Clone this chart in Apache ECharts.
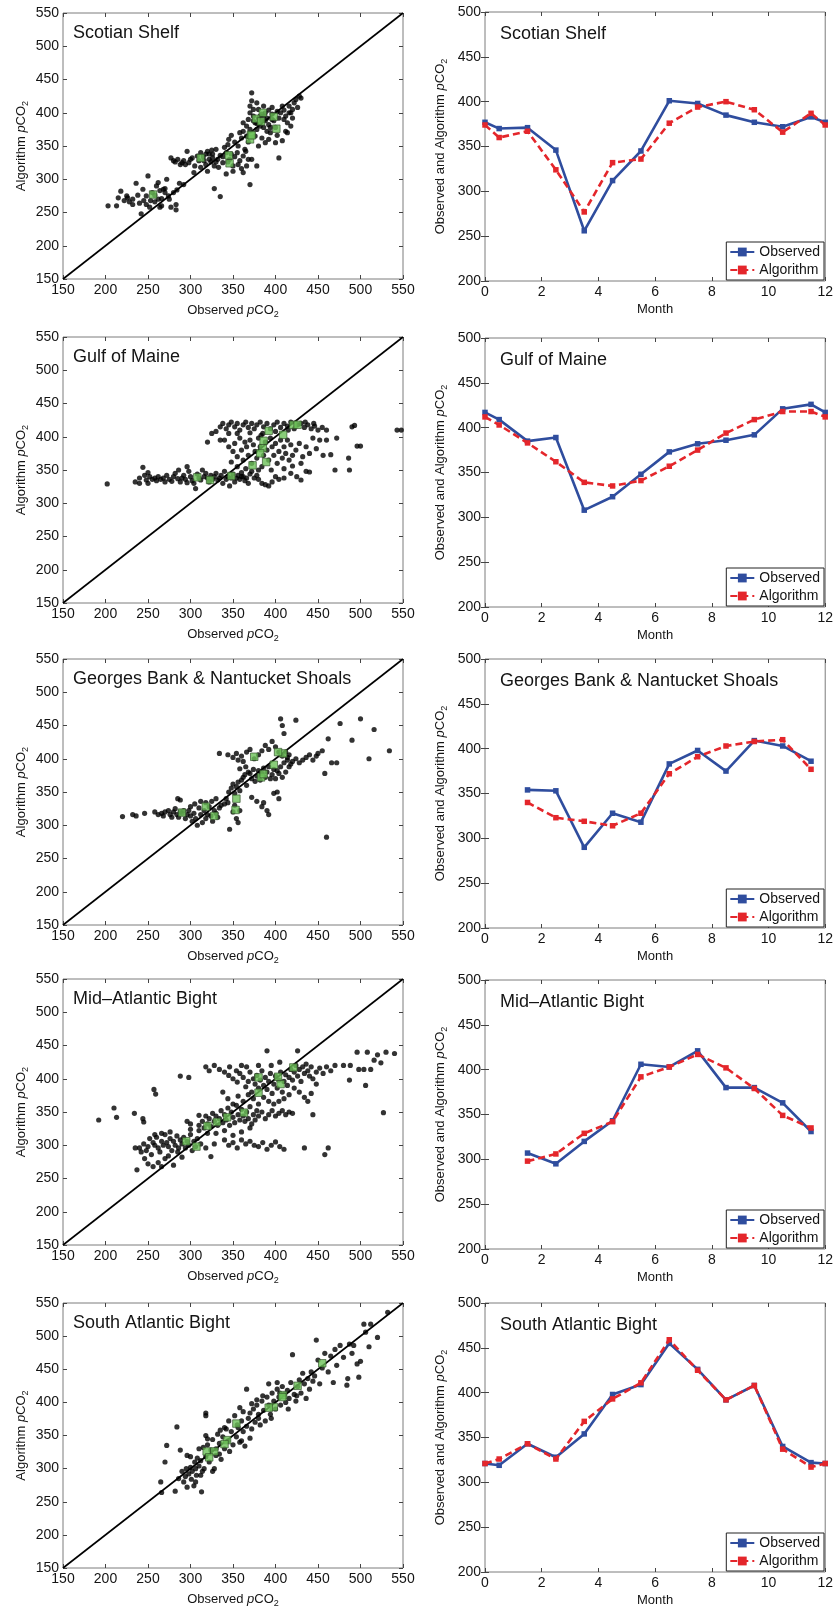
<!DOCTYPE html>
<html>
<head>
<meta charset="utf-8">
<title>Observed and algorithm pCO2</title>
<script src="https://cdn.jsdelivr.net/npm/echarts@6/dist/echarts.min.js"></script>
<style>
  html, body { margin: 0; padding: 0; background: #fff; }
  #chart { width: 836px; height: 1609px; }
</style>
</head>
<body>
<div id="chart"></div>
<script>
// ---- data -----------------------------------------------------------------
const regionNames = ['Scotian Shelf', 'Gulf of Maine', 'Georges Bank & Nantucket Shoals',
  'Mid\u2013Atlantic Bight', 'South Atlantic Bight'];

const monthsFull = [0, 0.5, 1.5, 2.5, 3.5, 4.5, 5.5, 6.5, 7.5, 8.5, 9.5, 10.5, 11.5, 12];
const monthsPart = [1.5, 2.5, 3.5, 4.5, 5.5, 6.5, 7.5, 8.5, 9.5, 10.5, 11.5];

const scotianObs = [377, 370, 371, 346, 256, 312, 345, 401, 398, 385, 377, 372, 383, 377];
const scotianAlg = [374, 360, 367, 324, 277, 332, 336, 376, 394, 400, 391, 366, 387, 374];
const gulfObs = [417, 409, 385, 389, 308, 323, 348, 373, 382, 386, 392, 421, 426, 417];
const gulfAlg = [412, 403, 383, 362, 339, 335, 341, 357, 375, 394, 409, 418, 418, 412];
const georgesObs = [354, 353, 290, 328, 318, 383, 398, 375, 409, 403, 386];
const georgesAlg = [340, 323, 319, 314, 328, 372, 391, 403, 408, 410, 377];
const midObs = [307, 295, 320, 343, 406, 403, 421, 380, 380, 363, 331];
const midAlg = [298, 306, 329, 342, 392, 403, 417, 402, 379, 349, 335];
const southObs = [321, 319, 343, 328, 354, 398, 409, 455, 426, 392, 408, 340, 322, 321];
const southAlg = [321, 326, 343, 326, 368, 393, 411, 459, 425, 392, 408, 337, 317, 321];

// individual matchups: [observed, algorithm]
const scotianDots = [
  [203,260],[213,260],[215,272],[218,282],[222,268],[226,272],[228,266],[232,270],[236,294],[238,276],
  [240,264],[242,248],[245,268],[248,262],[250,305],[252,258],[255,280],[258,276],[260,290],[262,295],
  [264,283],[266,271],[268,285],[270,286],[262,270],[258,266],[264,258],[272,300],[274,275],[277,258],
  [280,280],[283,254],[283,262],[284,284],[287,294],[292,292],[270,280],[275,270],[248,275],[232,262],
  [244,285],[266,260],[225,275],[253,268],
  [277,332],[280,328],[282,326],[285,330],[288,322],[290,325],[292,328],[294,322],[296,342],[298,325],
  [300,330],[302,332],[305,320],[308,335],[310,328],[312,340],[315,334],[318,338],[320,342],[322,330],
  [324,326],[326,338],[328,320],[330,345],[332,330],[335,336],[338,325],[340,348],[342,340],[344,352],
  [346,330],[348,338],[350,320],[352,334],[355,340],[358,328],[360,316],[362,335],[365,342],[368,330],
  [304,310],[312,318],[320,312],[328,286],[335,274],[342,308],[350,312],[356,322],[362,310],[370,292],
  [366,320],[372,330],[378,320],[326,332],[318,322],[333,318],[345,360],[348,366],[352,356],[356,350],
  [360,362],[364,345],[368,356],[316,328],[322,338],[330,326],[338,334],[344,326],[325,344],
  [362,372],[366,380],[368,390],[370,400],[370,410],[372,418],[372,430],[374,395],[376,385],[378,375],
  [380,405],[382,395],[384,388],[386,378],[388,400],[390,392],[392,382],[394,370],[396,398],[398,388],
  [400,378],[402,366],[404,392],[406,400],[408,410],[410,404],[412,395],[414,385],[416,410],[418,400],
  [420,392],[422,415],[424,420],[426,408],[428,425],[430,422],[376,365],[384,362],[392,360],[400,355],
  [408,358],[412,372],[404,332],[414,370],[418,380],[380,350],[388,355],[386,410],[378,415],[374,405],
  [396,408],[410,390],[402,402],[366,365],[370,375],[358,370],[362,385],[380,392],[384,398],[388,388],
  [392,404],[378,384],[382,380],[390,372],[396,390],[374,388],[386,395],[394,378],[416,400],[420,405]
];
const gulfDots = [
  [202,329],[235,332],[240,338],[244,354],[246,342],[248,335],[250,346],[252,340],[255,336],[258,338],
  [260,334],[262,340],[265,336],[268,338],[270,332],[272,342],[275,336],[278,333],[280,340],[282,345],
  [285,337],[288,332],[290,338],[292,342],[294,336],[296,331],[298,348],[300,340],[302,334],[304,330],
  [306,322],[308,344],[310,338],[312,335],[314,350],[316,340],[318,345],[320,338],[322,332],[324,342],
  [326,336],[328,340],[330,345],[332,335],[334,338],[336,342],[338,330],[340,348],[342,336],[344,340],
  [346,326],[348,338],[350,344],[352,332],[354,338],[356,342],[358,336],[360,346],[362,340],[364,334],
  [366,338],[368,330],[370,344],[372,348],[375,338],[378,342],[380,336],[384,330],[388,328],[392,326],
  [396,332],[400,340],[404,336],[410,338],[418,345],[425,340],[430,335],[436,348],[240,330],[250,330],
  [286,350],[296,355],
  [330,408],[335,415],[338,420],[342,412],[345,418],[348,422],[352,415],[355,420],[358,410],[362,418],
  [365,422],[368,414],[372,420],[375,412],[378,418],[382,422],[386,415],[390,420],[394,412],[398,418],
  [402,422],[406,414],[410,420],[414,416],[418,422],[422,412],[426,418],[430,420],[434,414],[438,418],
  [442,412],[446,416],[450,410],[455,414],[460,410],[445,420],[435,422],[415,410],[400,408],[385,405],
  [370,406],[355,405],[345,405],
  [340,395],[345,385],[350,378],[352,390],[355,370],[358,398],[360,380],[362,365],[364,392],[366,385],
  [368,372],[370,395],[372,360],[374,388],[376,378],[378,368],[380,398],[382,385],[384,355],[386,372],
  [388,392],[390,380],[392,365],[394,398],[396,385],[398,372],[400,390],[402,360],[404,378],[406,395],
  [408,368],[410,385],[412,375],[414,395],[416,365],[418,388],[420,372],[424,380],[428,390],[432,370],
  [436,385],[440,375],[444,398],[448,382],[452,395],[456,372],[460,395],[465,373],[470,350],[472,398],
  [486,368],[487,350],[490,415],[493,417],[496,386],[500,386],[543,410],[548,410],[440,347],[430,360],
  [420,356],[410,352],[395,350],[380,350],[365,352],[355,355],[348,362],[335,395],[325,405],[320,392],
  [360,340],[383,402]
];
const georgesDots = [
  [220,313],[232,316],[236,314],[246,318],[258,320],[262,316],[266,318],[268,314],[270,320],[274,322],
  [276,316],[278,312],[280,320],[282,325],[284,316],[286,312],[288,320],[290,318],[292,322],[294,310],
  [296,316],[298,322],[300,314],[302,306],[304,318],[306,310],[308,300],[310,326],[312,316],[314,304],
  [316,322],[318,310],[320,316],[322,328],[324,314],[326,306],[328,322],[330,318],[332,312],[334,326],
  [336,330],[340,332],[344,334],[346,294],[350,320],[352,330],[354,310],[356,304],[358,322],[285,340],
  [288,338],[300,328],[305,332],[312,336],[318,334],[325,336],[330,340],[342,340],
  [345,350],[348,356],[350,362],[352,348],[354,358],[356,365],[358,352],[360,368],[362,372],[364,376],
  [366,360],[368,380],[370,378],[372,370],[374,384],[376,366],[378,374],[380,382],[382,368],[384,378],
  [386,386],[388,372],[390,380],[392,388],[394,370],[396,376],[398,384],[400,370],[402,382],[404,378],
  [406,388],[408,372],[410,394],[412,380],[414,398],[416,388],[418,392],[420,396],[424,400],[428,394],
  [432,398],[436,402],[440,406],[444,398],[448,404],[450,408],[455,412],[458,378],[460,282],[462,430],
  [466,394],[472,394],[476,453],[490,428],[500,460],[510,400],[516,444],[534,412],
  [334,408],[344,406],[350,402],[354,408],[356,398],[360,404],[362,396],[366,410],[370,414],[375,400],
  [380,406],[384,412],[388,420],[392,414],[396,426],[400,418],[404,410],[406,460],[408,450],[410,438],
  [414,402],[424,458],[408,404],[412,410],[416,406],[386,334],[390,322],[392,316],[384,328],[378,336],
  [372,342],[398,348],[402,350],[404,340],[365,388],[358,385]
];
const midDots = [
  [192,338],[210,356],[213,342],[234,348],[235,296],[237,263],[244,340],[245,335],[257,384],[259,377],
  [288,404],[298,402],[324,283],[390,442],[426,442],[434,296],[444,346],[458,286],[462,296],[487,398],
  [496,440],[506,390],[508,440],[527,349],[540,438],[530,440],[520,436],[516,428],[524,424],[512,414],
  [504,414],[498,414],[488,420],[480,420],[470,420],
  [240,296],[242,290],[245,302],[248,292],[250,298],[252,310],[254,286],[256,304],[258,300],[260,312],
  [262,296],[264,290],[266,306],[268,300],[270,316],[272,304],[274,298],[276,310],[278,292],[280,306],
  [282,300],[284,314],[286,296],[288,308],[290,302],[292,312],[294,296],[296,306],[298,300],[300,316],
  [302,292],[304,306],[306,298],[308,310],[310,322],[312,302],[246,280],[250,272],[256,268],[262,274],
  [266,268],[270,280],[274,284],[280,270],[285,290],[290,282],[276,320],[266,318],[258,316],[300,324],
  [310,330],[314,336],[316,326],[318,344],[320,332],[322,340],[324,328],[326,348],[328,336],[330,344],
  [332,330],[334,340],[336,352],[338,334],[340,346],[342,338],[344,356],[346,330],[348,350],[350,342],
  [352,334],[354,360],[356,346],[358,338],[360,354],[362,344],[364,336],[366,350],[368,340],[370,358],
  [372,332],[374,346],[376,338],[378,352],[380,344],[384,350],[388,340],[392,346],[396,352],[400,344],
  [404,348],[408,352],[412,346],[416,350],[420,348],[330,318],[340,322],[350,315],[360,320],[370,326],
  [310,345],[300,332],[296,336],[320,318],
  [340,308],[345,300],[350,304],[355,296],[360,308],[365,302],[370,306],[375,300],[380,298],[385,304],
  [390,294],[395,300],[400,305],[405,298],[410,294],[318,296],[328,302],
  [318,418],[322,412],[328,420],[334,414],[340,410],[345,405],[350,400],[355,395],[358,408],[362,402],
  [365,388],[368,396],[370,410],[372,380],[374,400],[376,392],[378,405],[380,386],[382,398],[384,412],
  [386,390],[388,402],[390,384],[392,396],[394,408],[396,378],[398,392],[400,404],[402,386],[404,398],
  [406,410],[408,380],[410,396],[412,406],[414,390],[416,402],[418,414],[420,398],[422,410],[424,420],
  [426,404],[428,414],[430,396],[432,418],[434,408],[436,422],[438,412],[440,404],[442,418],[444,400],
  [448,410],[452,416],[456,408],[460,418],[465,412],[448,392],[442,378],[438,366],[434,372],[428,380],
  [422,386],[416,376],[410,370],[404,366],[398,362],[392,366],[386,372],[380,362],[374,370],[368,376],
  [362,366],[356,374],[350,362],[344,370],[338,380],[366,418],[360,420],[354,412],[346,418],[395,420],
  [405,425],[380,420]
];
const southDots = [
  [265,280],[266,264],[270,310],[272,335],[282,266],[284,363],[286,285],[288,328],[290,296],[292,280],
  [294,288],[295,300],[296,272],[298,292],[300,302],[301,284],[302,296],[304,274],[305,310],[306,300],
  [307,290],[308,316],[310,304],[312,312],[313,265],[314,296],[315,332],[316,300],[318,318],[320,336],
  [322,310],[324,328],[326,344],[328,300],[330,320],[332,352],[334,338],[336,314],[338,348],[340,330],
  [342,360],[344,342],[346,326],[348,356],[350,336],[352,380],[354,348],[356,362],[358,340],[360,372],
  [362,356],[364,334],[366,364],[368,376],[370,384],[372,360],[374,390],[376,370],[378,396],[380,382],
  [382,366],[384,402],[386,388],[388,372],[390,408],[392,396],[394,382],[396,414],[398,402],[400,390],
  [402,420],[404,408],[406,396],[408,424],[410,412],[412,400],[414,418],[416,406],[418,430],[420,472],
  [422,412],[424,402],[426,424],[428,434],[430,414],[432,444],[434,428],[436,406],[438,436],[440,420],
  [442,446],[444,432],[446,440],[448,494],[450,464],[452,428],[455,452],[458,474],[462,446],[465,470],
  [468,430],[470,480],[472,456],[476,486],[480,468],[484,426],[485,436],[487,488],[490,474],[492,486],
  [496,458],[498,438],[500,462],[504,518],[506,506],[510,484],[512,518],[520,498],[532,536],[330,330],
  [335,358],[345,372],[355,366],[360,342],[370,346],[380,376],[362,386],[372,398],[385,410],[395,376],
  [405,414],[415,390],[425,410],[300,318],[310,330],[318,380],[318,384],[320,345],[340,362],[318,350],
  [358,392],[366,420],[378,404],[392,428],[402,430],[326,296],[334,322],[306,280],[296,320],[312,290]
];

// scatter and time-series axes
const scatterTicks = { min: 150, max: 550, interval: 50 };
const monthTicks = { min: 0, max: 12, interval: 2 };
const pco2Ticks = { min: 200, max: 500, interval: 50 };
const oneToOne = [150, 550];

const regions = [
  { dots: scotianDots, months: monthsFull, obs: scotianObs, alg: scotianAlg },
  { dots: gulfDots, months: monthsFull, obs: gulfObs, alg: gulfAlg },
  { dots: georgesDots, months: monthsPart, obs: georgesObs, alg: georgesAlg },
  { dots: midDots, months: monthsPart, obs: midObs, alg: midAlg },
  { dots: southDots, months: monthsFull, obs: southObs, alg: southAlg }
];

// ---- layout & style -------------------------------------------------------
const FONT = '"Liberation Sans", Arial, Helvetica, sans-serif';
const INK = '#141414';
const BLUE = '#2f4d9e';
const RED = '#e4262b';
const scatterTops = [13, 337, 659, 979, 1303];
const lineTops = [12, 338, 659, 980, 1303];

const pco2Rich = {
  t: { fontSize: 13, fontFamily: FONT, color: INK },
  i: { fontSize: 13, fontFamily: FONT, color: INK, fontStyle: 'italic' },
  s: { fontSize: 9, fontFamily: FONT, color: INK, padding: [8, 0, 0, 0] }
};
const pco2Name = label => '{t|' + label + ' }{i|p}{t|CO}{s|2}';

function axis(gridIndex, ticks, extra) {
  return Object.assign({
    type: 'value', gridIndex,
    min: ticks.min, max: ticks.max, interval: ticks.interval,
    axisLine: { show: false },
    axisTick: { show: true, inside: true, length: 4, lineStyle: { color: '#444', width: 1 } },
    splitLine: { show: false },
    axisLabel: { fontSize: 14, color: INK, fontFamily: FONT, margin: 4 },
    nameTextStyle: { fontSize: 13, color: INK, fontFamily: FONT, rich: pco2Rich }
  }, extra);
}
const hiddenLabels = { axisLabel: { show: false } };

const grid = [], xAxis = [], yAxis = [], series = [], title = [], legend = [];

regions.forEach((reg, r) => {
  // ---- scatter panel: algorithm vs observed
  let g = grid.length;
  grid.push({ left: 63, top: scatterTops[r], width: 340, height: 266, show: true,
    borderColor: '#7c7c7c', borderWidth: 1, backgroundColor: '#fff' });
  xAxis.push(axis(g, scatterTicks, { position: 'bottom', name: pco2Name('Observed'),
    nameLocation: 'middle', nameGap: 23 }));
  xAxis.push(axis(g, scatterTicks, Object.assign({ position: 'top' }, hiddenLabels)));
  yAxis.push(axis(g, scatterTicks, { position: 'left', name: pco2Name('Algorithm'),
    nameLocation: 'middle', nameGap: 33 }));
  yAxis.push(axis(g, scatterTicks, Object.assign({ position: 'right' }, hiddenLabels)));
  const xi = xAxis.length - 2, yi = yAxis.length - 2;
  series.push({ type: 'scatter', xAxisIndex: xi, yAxisIndex: yi, data: reg.dots,
    symbolSize: 5.2, itemStyle: { color: '#000' }, silent: true, z: 2 });
  series.push({ type: 'line', xAxisIndex: xi, yAxisIndex: yi,
    data: [[oneToOne[0], oneToOne[0]], [oneToOne[1], oneToOne[1]]],
    symbol: 'none', lineStyle: { color: '#000', width: 1.6 }, silent: true, z: 3 });
  const monthly = reg.months.map((m, i) => [m, i])
    .filter(([m]) => m > 0 && m < 12)
    .map(([, i]) => [reg.obs[i], reg.alg[i]]);
  series.push({ type: 'scatter', xAxisIndex: xi, yAxisIndex: yi, data: monthly,
    symbol: 'rect', symbolSize: 7.5,
    itemStyle: { color: '#6cc158', borderColor: '#2e4a26', borderWidth: 0.8 }, silent: true, z: 4 });
  title.push({ text: regionNames[r], left: 73, top: scatterTops[r] + 11, padding: 0,
    textStyle: { fontSize: 18, fontWeight: 'normal', color: INK, fontFamily: FONT } });

  // ---- monthly panel: observed and algorithm climatology
  g = grid.length;
  grid.push({ left: 485, top: lineTops[r], width: 342, height: 269, show: true,
    borderColor: '#7c7c7c', borderWidth: 1, backgroundColor: '#fff' });
  xAxis.push(axis(g, monthTicks, { position: 'bottom', name: 'Month',
    nameLocation: 'middle', nameGap: 22 }));
  xAxis.push(axis(g, monthTicks, Object.assign({ position: 'top' }, hiddenLabels)));
  yAxis.push(axis(g, pco2Ticks, { position: 'left', name: pco2Name('Observed and Algorithm'),
    nameLocation: 'middle', nameGap: 36 }));
  yAxis.push(axis(g, pco2Ticks, Object.assign({ position: 'right' }, hiddenLabels)));
  const lx = xAxis.length - 2, ly = yAxis.length - 2;
  series.push({ name: 'Observed', type: 'line', xAxisIndex: lx, yAxisIndex: ly,
    data: reg.months.map((m, i) => [m, reg.obs[i]]),
    symbol: 'rect', symbolSize: 5.5, showAllSymbol: true,
    lineStyle: { color: BLUE, width: 2.6 }, itemStyle: { color: BLUE }, z: 3 });
  series.push({ name: 'Algorithm', type: 'line', xAxisIndex: lx, yAxisIndex: ly,
    data: reg.months.map((m, i) => [m, reg.alg[i]]),
    symbol: 'rect', symbolSize: 5.5, showAllSymbol: true,
    lineStyle: { color: RED, width: 2.6, type: [7, 4] }, itemStyle: { color: RED }, z: 4 });
  title.push({ text: regionNames[r], left: 500, top: lineTops[r] + 13, padding: 0,
    textStyle: { fontSize: 18, fontWeight: 'normal', color: INK, fontFamily: FONT } });
  legend.push({ data: ['Observed', 'Algorithm'], orient: 'vertical', right: 12,
    top: lineTops[r] + 230, itemWidth: 24, itemHeight: 11, itemGap: 4,
    padding: [3, 4, 3, 3], borderColor: '#222', borderWidth: 1, backgroundColor: '#fff',
    selectedMode: false,
    textStyle: { fontSize: 14, color: INK, fontFamily: FONT } });
});

const chart = echarts.init(document.getElementById('chart'), null, { renderer: 'canvas' });
chart.setOption({
  animation: false,
  backgroundColor: '#fff',
  title, legend, grid, xAxis, yAxis, series
});
</script>
</body>
</html>
